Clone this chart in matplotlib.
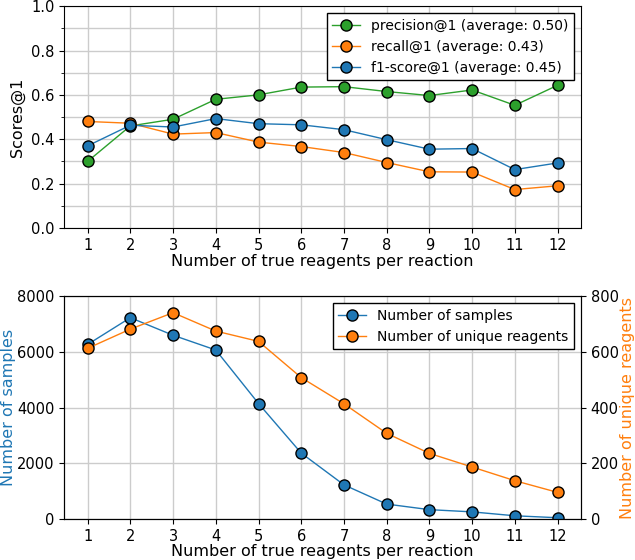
import numpy as np
import matplotlib.pyplot as plt
from matplotlib.ticker import MultipleLocator

n_reagents = [1, 2, 3, 4, 5, 6, 7, 8, 9, 10, 11, 12]

precision = [0.30, 0.46, 0.49, 0.58, 0.60, 0.635, 0.637, 0.615, 0.597, 0.622, 0.553, 0.643]
recall = [0.48, 0.472, 0.423, 0.43, 0.387, 0.367, 0.34, 0.295, 0.253, 0.252, 0.173, 0.19]
f1 = [0.37, 0.463, 0.455, 0.493, 0.47, 0.465, 0.443, 0.398, 0.355, 0.358, 0.263, 0.293]
avg_labels = ["precision@1 (average: 0.50)", "recall@1 (average: 0.43)", "f1-score@1 (average: 0.45)"]

n_samples = [6270, 7230, 6600, 6070, 4150, 2370, 1230, 540, 340, 260, 120, 50]
n_unique = [613, 682, 741, 675, 638, 508, 414, 308, 236, 187, 138, 96]

blue = "#1f77b4"
orange = "#ff7f0e"
green = "#2ca02c"

plt.rcParams['font.size'] = 10.5
plt.rcParams['axes.labelsize'] = 11.5

fig = plt.figure(figsize=(6.35, 5.6), dpi=100)
ax1 = fig.add_axes([0.101, 0.593, 0.814, 0.396])
ax2 = fig.add_axes([0.101, 0.073, 0.814, 0.398])

mk = dict(marker='o', markersize=8, markeredgecolor='black', linewidth=1)

ax1.plot(n_reagents, precision, color=green, label=avg_labels[0], **mk)
ax1.plot(n_reagents, recall, color=orange, label=avg_labels[1], **mk)
ax1.plot(n_reagents, f1, color=blue, label=avg_labels[2], **mk)
ax1.set_ylim(0, 1)
ax1.set_xticks(n_reagents)
ax1.yaxis.set_minor_locator(MultipleLocator(0.1))
ax1.grid(True, which='both', color='#cccccc', linewidth=1)
ax1.set_axisbelow(True)
ax1.set_ylabel("Scores@1", labelpad=4)
ax1.set_xlabel("Number of true reagents per reaction", labelpad=1)
leg = ax1.legend(loc='upper right', fancybox=False, edgecolor='black', fontsize=10)
leg.get_frame().set_alpha(1)

l1, = ax2.plot(n_reagents, n_samples, color=blue, label="Number of samples", **mk)
ax2.set_ylim(0, 8000)
ax2.set_xticks(n_reagents)
ax2.grid(True, color='#cccccc', linewidth=1)
ax2.set_axisbelow(True)
ax2.set_ylabel("Number of samples", color=blue, labelpad=1)
ax2.set_xlabel("Number of true reagents per reaction", labelpad=0)

ax3 = ax2.twinx()
l2, = ax3.plot(n_reagents, n_unique, color=orange, label="Number of unique reagents", **mk)
ax3.set_ylim(0, 800)
ax3.set_ylabel("Number of unique reagents", color=orange, labelpad=1)
leg2 = ax3.legend([l1, l2], [l1.get_label(), l2.get_label()], loc='upper right',
                  fancybox=False, edgecolor='black', fontsize=10)
leg2.get_frame().set_alpha(1)

fig.savefig("out.png")
